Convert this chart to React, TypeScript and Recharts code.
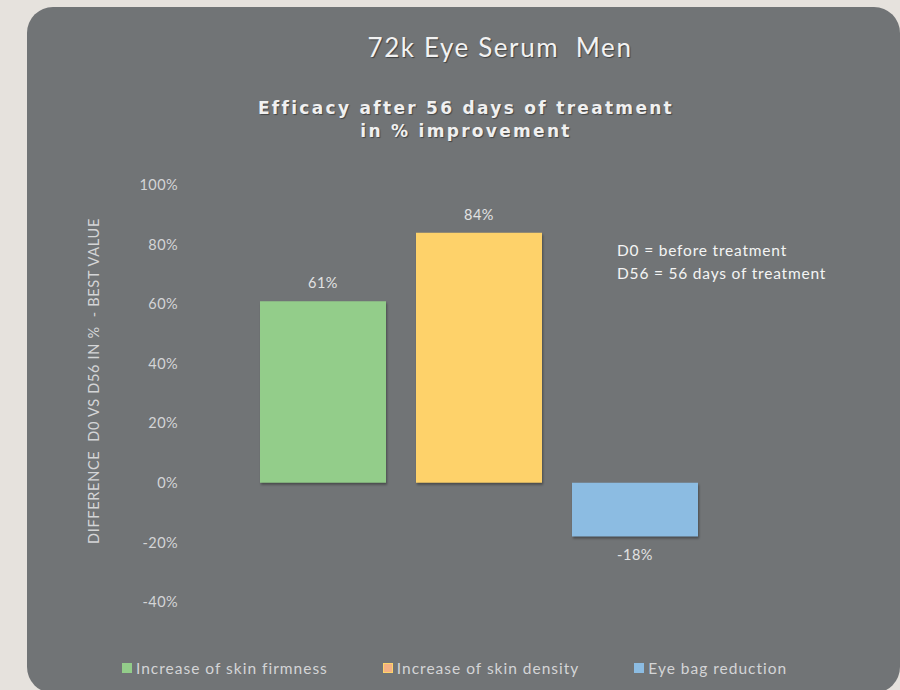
import React from 'react';
import { BarChart, Bar, XAxis, YAxis, LabelList, Legend } from 'recharts';

const seriesKeys = ['firmness', 'density', 'eyebag'];
const seriesNames = ['Increase of skin firmness', 'Increase of skin density', 'Eye bag reduction'];
const seriesValues = [61, 84, -18];
const yTicks = [-40, -20, 0, 20, 40, 60, 80, 100];

const barColors = ['#93cd8a', '#fed26a', '#8cbce2'];
const legendFill = ['#93cd8a', '#f5b183', '#8cbce2'];
const legendBorder = ['#93cd8a', '#fed46a', '#8cbce2'];

const row: any = { name: 'D56' };
seriesKeys.forEach((k, i) => {
  row[k] = seriesValues[i];
});
const data = [row];

const textColor = '#d4d5d6';
const font = 'Lato, "Open Sans", sans-serif';

const LegendContent = () => (
  <div style={{ display: 'flex', gap: 55, fontFamily: font, fontSize: 15.5, letterSpacing: 1, color: textColor }}>
    {seriesNames.map((n, i) => (
      <div key={n} style={{ display: 'flex', alignItems: 'center' }}>
        <span
          style={{
            width: 8,
            height: 8,
            background: legendFill[i],
            border: `1px solid ${legendBorder[i]}`,
            marginRight: 4,
            display: 'inline-block',
          }}
        />
        <span>{n}</span>
      </div>
    ))}
  </div>
);

export default function App() {
  return (
    <div style={{ position: 'absolute', left: 0, top: 0, width: 900, height: 690, background: '#e6e2dd', overflow: 'hidden' }}>
      <div
        style={{
          position: 'absolute',
          left: 27,
          top: 7,
          width: 873,
          height: 686,
          borderRadius: 26,
          background: '#717476',
        }}
      />
      <div
        style={{
          position: 'absolute',
          left: 0,
          width: 1000,
          top: 31,
          textAlign: 'center',
          fontFamily: font,
          fontSize: 26,
          letterSpacing: 1.6,
          color: '#f2f2f2',
          textShadow: '1px 1px 1px rgba(0,0,0,0.45)',
        }}
      >
        72k Eye Serum&nbsp;&nbsp;Men
      </div>
      <div
        style={{
          position: 'absolute',
          left: 0,
          width: 932,
          top: 97,
          textAlign: 'center',
          fontFamily: '"DejaVu Sans", sans-serif',
          fontWeight: 'bold',
          fontSize: 17,
          lineHeight: '23px',
          letterSpacing: 2.3,
          color: '#f0f0f0',
          textShadow: '1px 1px 1px rgba(0,0,0,0.4)',
        }}
      >
        Efficacy after 56 days of treatment
        <br />
        in % improvement
      </div>
      <div
        style={{
          position: 'absolute',
          left: 617,
          top: 239,
          fontFamily: font,
          fontSize: 15.5,
          lineHeight: '23px',
          letterSpacing: 0.8,
          color: '#f4f4f4',
        }}
      >
        D0 = before treatment
        <br />
        D56 = 56 days of treatment
      </div>
      <div
        style={{
          position: 'absolute',
          left: 93,
          top: 381,
          transform: 'translate(-50%, -50%) rotate(-90deg)',
          whiteSpace: 'nowrap',
          fontFamily: font,
          fontSize: 14.5,
          letterSpacing: 0.7,
          color: textColor,
        }}
      >
        DIFFERENCE&nbsp;&nbsp;D0 VS D56 IN %&nbsp;&nbsp;- BEST VALUE
      </div>
      <div style={{ position: 'absolute', left: 0, top: 0 }}>
        <BarChart
          width={900}
          height={690}
          data={data}
          margin={{ top: 185, right: 140, bottom: 70, left: 137 }}
          barGap={30}
        >
          <XAxis dataKey="name" hide />
          <YAxis
            width={60}
            domain={[-40, 100]}
            ticks={yTicks}
            tickFormatter={(v: number) => `${v}%`}
            axisLine={false}
            tickLine={false}
            tickSize={6}
            tickMargin={13}
            tick={{ fill: textColor, fontSize: 14.5, fontFamily: font, letterSpacing: 0.4 }}
          />
          <Legend
            content={<LegendContent />}
            wrapperStyle={{ position: 'absolute', left: 122, top: 659, width: 760 }}
          />
          {seriesKeys.map((k, i) => (
            <Bar
              key={k}
              dataKey={k}
              name={seriesNames[i]}
              fill={barColors[i]}
              barSize={126}
              isAnimationActive={false}
              style={{ filter: 'drop-shadow(1px 2px 1px rgba(0,0,0,0.35))' }}
            >
              <LabelList
                dataKey={k}
                position="top"
                offset={13}
                formatter={(v: any) => `${v}%`}
                fill="#e2e2e2"
                fontSize={14.5}
                fontFamily={font}
                letterSpacing={0.5}
              />
            </Bar>
          ))}
        </BarChart>
      </div>
    </div>
  );
}
